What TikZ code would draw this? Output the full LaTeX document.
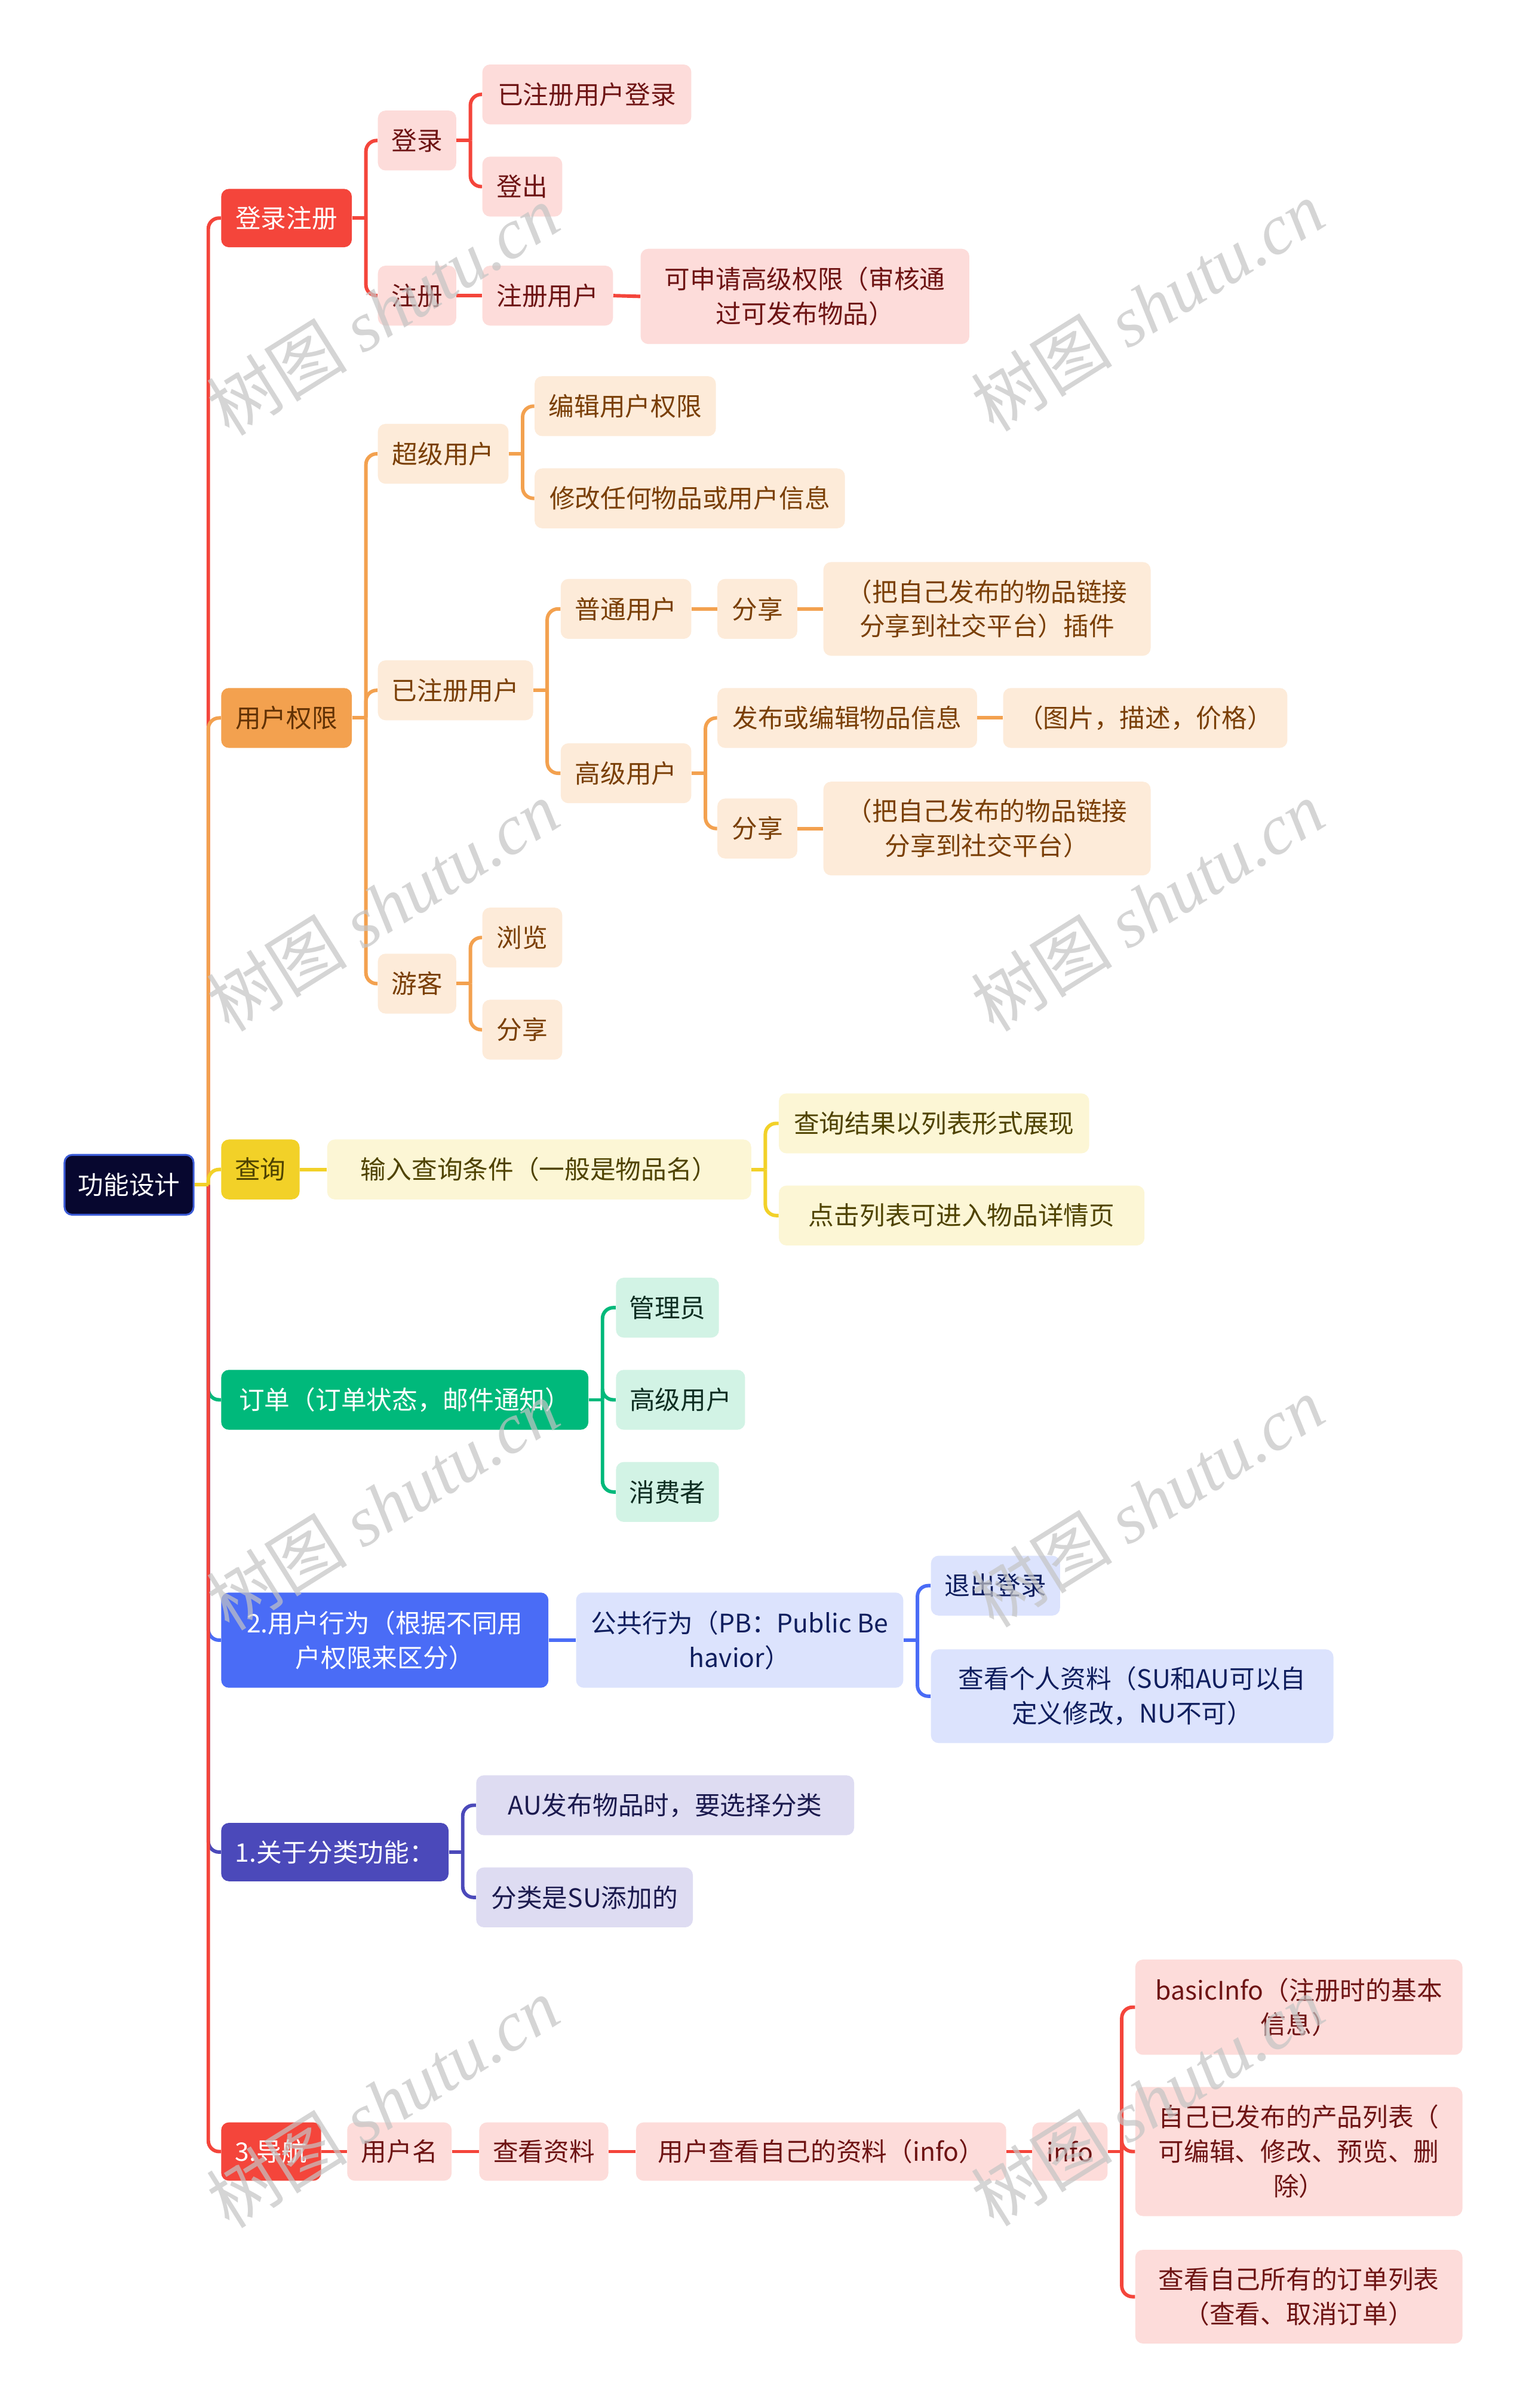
\documentclass[tikz,border=0pt]{standalone}
\usepackage{fontspec}
\setmainfont{Noto Sans CJK SC}
\newfontfamily\wmlatin{Liberation Serif}
\usetikzlibrary{calc}
\definecolor{cRoot}{HTML}{07072F}
\definecolor{cRootB}{HTML}{3B5BD6}
\definecolor{cRed}{HTML}{F4453B}
\definecolor{cRedL}{HTML}{FDDCDA}
\definecolor{cRedT}{HTML}{6E1414}
\definecolor{cOr}{HTML}{F3A14F}
\definecolor{cOrL}{HTML}{FDEBD9}
\definecolor{cOrT}{HTML}{7A3F06}
\definecolor{cYe}{HTML}{F2D128}
\definecolor{cYeL}{HTML}{FCF6D5}
\definecolor{cYeT}{HTML}{4F4300}
\definecolor{cGr}{HTML}{00B97B}
\definecolor{cGrL}{HTML}{D2F3E5}
\definecolor{cGrT}{HTML}{0E2E22}
\definecolor{cBl}{HTML}{4A6CF6}
\definecolor{cBlL}{HTML}{DCE3FD}
\definecolor{cBlT}{HTML}{0F1E5E}
\definecolor{cIn}{HTML}{4B49BA}
\definecolor{cInL}{HTML}{DEDCF2}
\definecolor{cInT}{HTML}{1B1A4E}
\definecolor{cWm}{HTML}{C4C4C4}
\tikzset{
  base/.style={rounded corners=5pt, inner sep=0pt, align=center, font=\fontsize{16.6}{22.5}\selectfont},
  sz/.style n args={2}{minimum width=#1pt, minimum height=#2pt},
  redD/.style={base, fill=cRed, text=white},
  redL/.style={base, fill=cRedL, text=cRedT},
  orD/.style={base, fill=cOr, text=cOrT!80!black},
  orL/.style={base, fill=cOrL, text=cOrT},
  yeD/.style={base, fill=cYe, text=cYeT},
  yeL/.style={base, fill=cYeL, text=cYeT},
  grD/.style={base, fill=cGr, text=white},
  grL/.style={base, fill=cGrL, text=cGrT},
  blD/.style={base, fill=cBl, text=white},
  blL/.style={base, fill=cBlL, text=cBlT},
  inD/.style={base, fill=cIn, text=white},
  inL/.style={base, fill=cInL, text=cInT},
  conn/.style={line width=2.3pt},
  wm/.style={rotate=32, text=cWm, opacity=0.7, font=\fontsize{46}{46}\selectfont}
}
\newcommand\mylink[3]{%
  \draw[conn,#1] (#2.east) -- ++(9,0);
  \draw[conn,#1,rounded corners=7pt] ($(#2.east)+(9,0)$) |- (#3.west);}
\newcommand\mystraight[3]{\draw[conn,#1] (#2.east) -- (#3.west);}
\begin{document}
\begin{tikzpicture}[x=1pt,y=-1pt]
\useasboundingbox[fill=white] (0,0) rectangle (995,1568);

% root
\node[base, sz={84}{39}, fill=cRoot, draw=cRootB, line width=1.2pt, text=white] (root) at (84,771.5) {功能设计};

% level 1
\node[redD, sz={85}{38}] (lz) at (186.5,142) {登录注册};
\node[orD, sz={85}{39}] (qx) at (186.5,467.5) {用户权限};
\node[yeD, sz={51}{39}] (cx) at (169.5,761.5) {查询};
\node[grD, sz={239}{39}] (dd) at (263.5,911.5) {订单（订单状态，邮件通知）};
\node[blD, sz={213}{62}] (yh) at (250.5,1068) {2.用户行为（根据不同用\\户权限来区分）};
\node[inD, sz={148}{38}] (fl) at (218,1206) {1.关于分类功能：};
\node[redD, sz={65}{38}] (dh) at (176.5,1401) {3.导航};

% red branch
\node[redL, sz={51}{39}] (dl) at (271.5,91.5) {登录};
\node[redL, sz={51}{39}] (zc) at (271.5,192.5) {注册};
\node[redL, sz={136}{39}] (yzc) at (382,61.5) {已注册用户登录};
\node[redL, sz={52}{39}] (dc) at (340,121.5) {登出};
\node[redL, sz={85}{39}] (zcyh) at (356.5,192.5) {注册用户};
\node[redL, sz={214}{62}] (ksq) at (524,193) {可申请高级权限（审核通\\过可发布物品）};

% orange branch
\node[orL, sz={85}{39}] (cj) at (288.5,295.5) {超级用户};
\node[orL, sz={101}{39}] (yzu) at (296.5,449.5) {已注册用户};
\node[orL, sz={51}{39}] (yk) at (271.5,640.5) {游客};
\node[orL, sz={118}{39}] (bj) at (407,264.5) {编辑用户权限};
\node[orL, sz={202}{39}] (xg) at (449,324.5) {修改任何物品或用户信息};
\node[orL, sz={85}{39}] (pt) at (407.5,396.5) {普通用户};
\node[orL, sz={85}{39}] (gj) at (407.5,503.5) {高级用户};
\node[orL, sz={52}{39}] (fxa) at (493,396.5) {分享};
\node[orL, sz={213}{61}] (bza) at (642.5,396.5) {（把自己发布的物品链接\\分享到社交平台）插件};
\node[orL, sz={169}{39}] (fb) at (551.5,467.5) {发布或编辑物品信息};
\node[orL, sz={185}{39}] (tp) at (745.5,467.5) {（图片，描述，价格）};
\node[orL, sz={52}{39}] (fxb) at (493,539.5) {分享};
\node[orL, sz={213}{61}] (bzb) at (642.5,539.5) {（把自己发布的物品链接\\分享到社交平台）};
\node[orL, sz={52}{39}] (ll) at (340,610.5) {浏览};
\node[orL, sz={52}{39}] (fxc) at (340,670.5) {分享};

% yellow branch
\node[yeL, sz={276}{39}] (sr) at (351,761.5) {输入查询条件（一般是物品名）};
\node[yeL, sz={202}{39}] (jg) at (608,731.5) {查询结果以列表形式展现};
\node[yeL, sz={238}{39}] (dj) at (626,791.5) {点击列表可进入物品详情页};

% green branch
\node[grL, sz={67}{39}] (gly) at (434.5,851.5) {管理员};
\node[grL, sz={84}{39}] (gjyh) at (443,911.5) {高级用户};
\node[grL, sz={67}{39}] (xfz) at (434.5,971.5) {消费者};

% blue branch
\node[blL, sz={213}{62}] (gg) at (481.5,1068) {公共行为（PB：Public Be\\havior）};
\node[blL, sz={84}{39}] (tc) at (648,1032.5) {退出登录};
\node[blL, sz={262}{61}] (ck) at (737,1104.5) {查看个人资料（SU和AU可以自\\定义修改，NU不可）};

% indigo branch
\node[inL, sz={246}{39}] (au) at (433,1175.5) {AU发布物品时，要选择分类};
\node[inL, sz={141}{39}] (sua) at (380.5,1235.5) {分类是SU添加的};

% navigation branch
\node[redL, sz={68}{38}] (yhm) at (260,1401) {用户名};
\node[redL, sz={84}{38}] (ckzl) at (354,1401) {查看资料};
\node[redL, sz={241}{38}] (yhck) at (534.5,1401) {用户查看自己的资料（info）};
\node[redL, sz={49}{38}] (info) at (696.5,1401) {info};
\node[redL, sz={213}{62}] (basic) at (845.5,1307) {basicInfo（注册时的基本\\信息）};
\node[redL, sz={213}{84}] (zj) at (845.5,1401) {自己已发布的产品列表（\\可编辑、修改、预览、删\\除）};
\node[redL, sz={213}{61}] (ckdd) at (845.5,1495.5) {查看自己所有的订单列表\\（查看、取消订单）};

% trunk connectors
\mylink{cGr}{root}{dd}
\mylink{cBl}{root}{yh}
\mylink{cIn}{root}{fl}
\mylink{cRed}{root}{dh}
\mylink{cRed}{root}{lz}
\mylink{cOr}{root}{qx}
\mylink{cYe}{root}{cx}

% red
\mylink{cRed}{lz}{dl}
\mylink{cRed}{lz}{zc}
\mylink{cRed}{dl}{yzc}
\mylink{cRed}{dl}{dc}
\mystraight{cRed}{zc}{zcyh}
\mystraight{cRed}{zcyh}{ksq}

% orange
\mylink{cOr}{qx}{cj}
\mylink{cOr}{qx}{yzu}
\mylink{cOr}{qx}{yk}
\mylink{cOr}{cj}{bj}
\mylink{cOr}{cj}{xg}
\mylink{cOr}{yzu}{pt}
\mylink{cOr}{yzu}{gj}
\mystraight{cOr}{pt}{fxa}
\mystraight{cOr}{fxa}{bza}
\mylink{cOr}{gj}{fb}
\mylink{cOr}{gj}{fxb}
\mystraight{cOr}{fb}{tp}
\mystraight{cOr}{fxb}{bzb}
\mylink{cOr}{yk}{ll}
\mylink{cOr}{yk}{fxc}

% yellow
\mystraight{cYe}{cx}{sr}
\mylink{cYe}{sr}{jg}
\mylink{cYe}{sr}{dj}

% green
\mylink{cGr}{dd}{gly}
\mylink{cGr}{dd}{gjyh}
\mylink{cGr}{dd}{xfz}

% blue
\mystraight{cBl}{yh}{gg}
\mylink{cBl}{gg}{tc}
\mylink{cBl}{gg}{ck}

% indigo
\mylink{cIn}{fl}{au}
\mylink{cIn}{fl}{sua}

% navigation
\mystraight{cRed}{dh}{yhm}
\mystraight{cRed}{yhm}{ckzl}
\mystraight{cRed}{ckzl}{yhck}
\mystraight{cRed}{yhck}{info}
\mylink{cRed}{info}{basic}
\mylink{cRed}{info}{zj}
\mylink{cRed}{info}{ckdd}

% watermarks
\foreach \wx/\wy [count=\i] in {249/202,747/199,249/590,747/590,249/980,747/978,249/1369,747/1368}{
  \node[wm] (wm\i) at (\wx,\wy) {树图 {\wmlatin\itshape shutu.cn}};
}
\end{tikzpicture}
\end{document}
